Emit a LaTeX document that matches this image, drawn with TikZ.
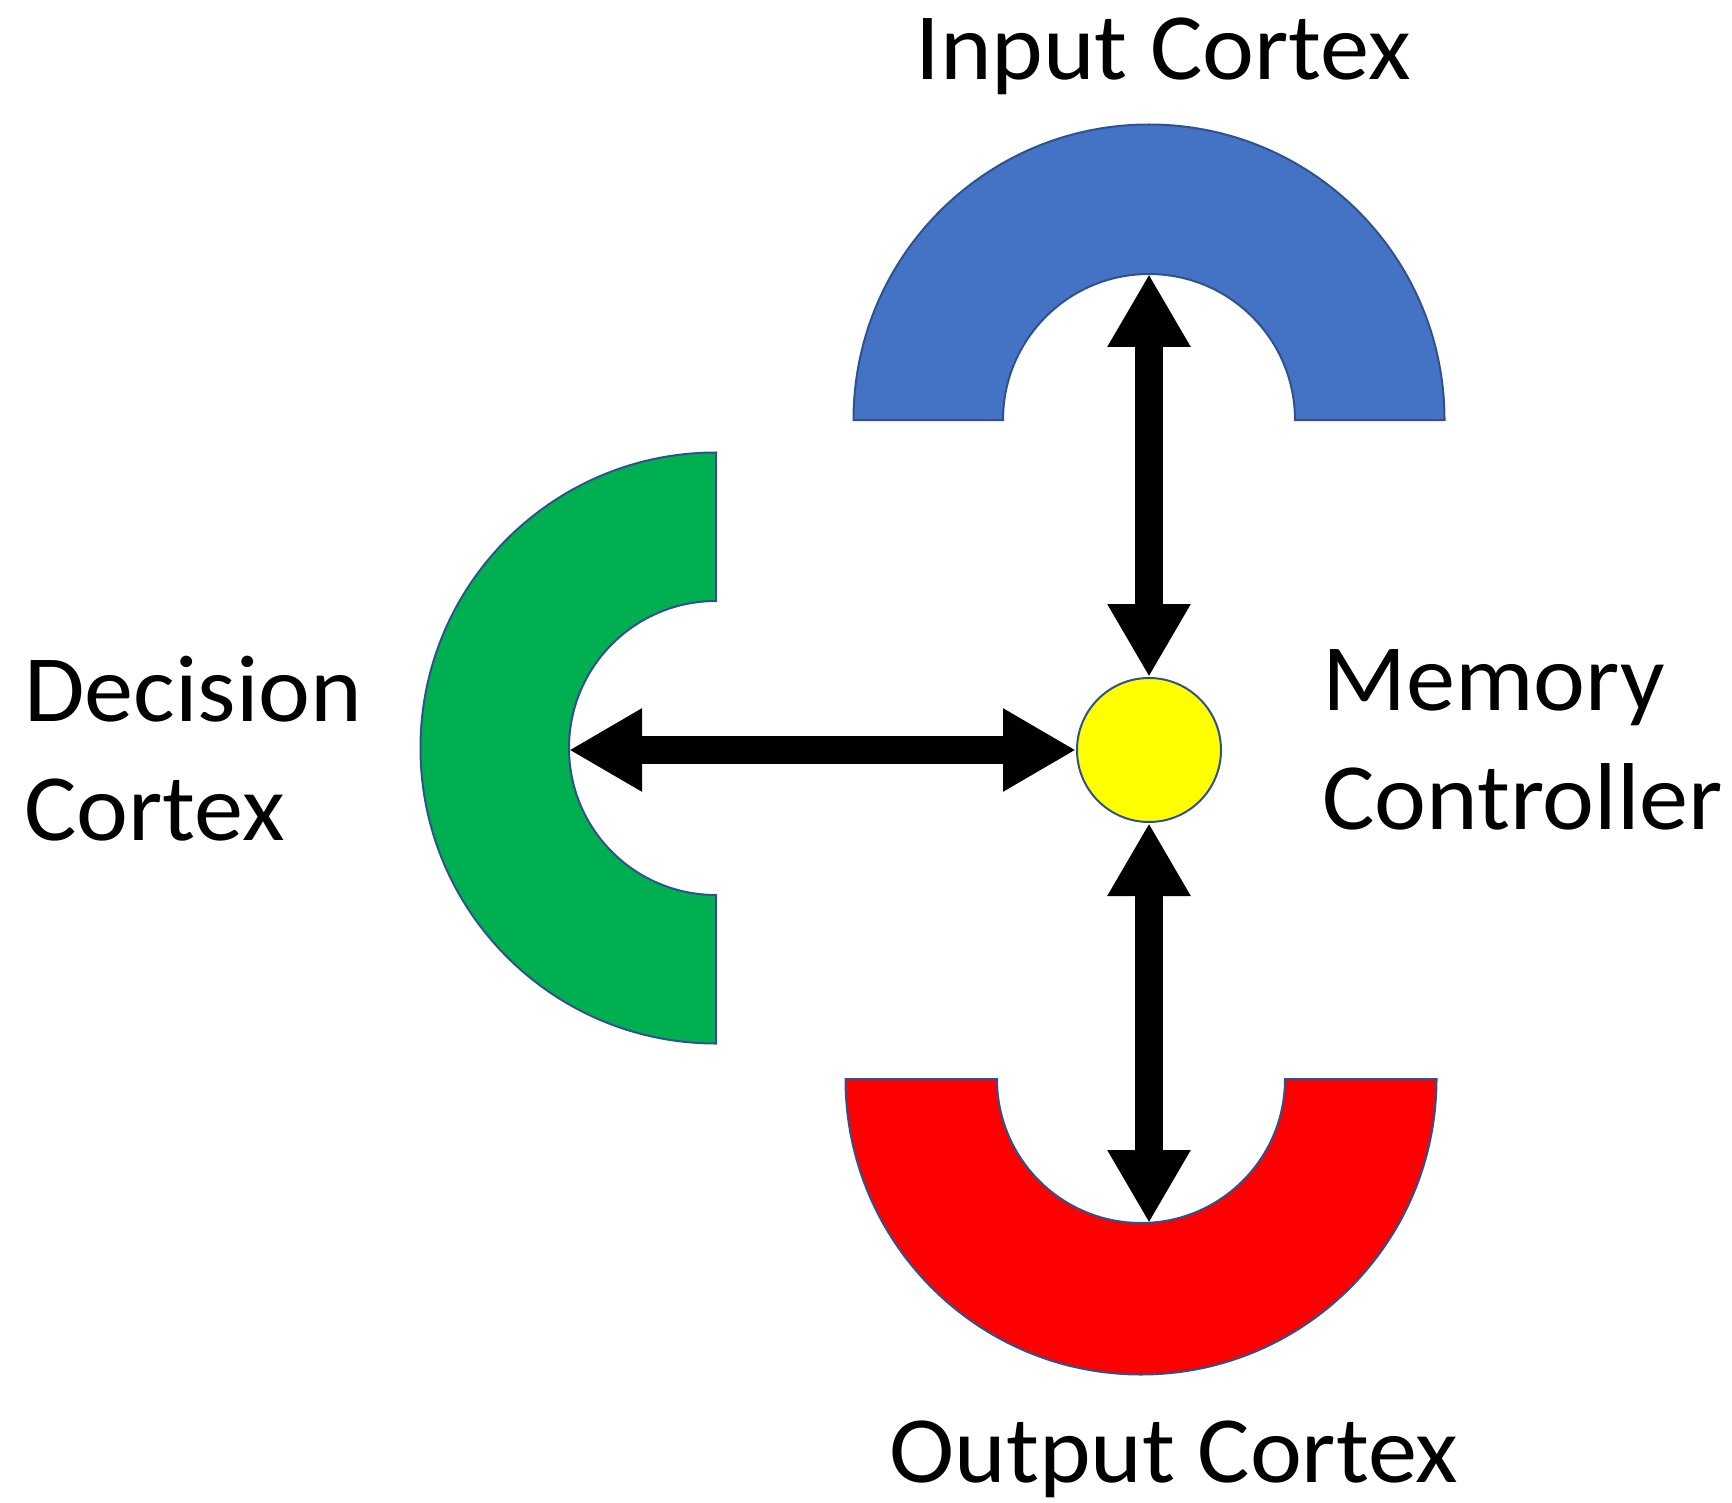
\documentclass[tikz,border=0pt]{standalone}
\usepackage{fontspec}
\setmainfont{Carlito}[FakeStretch=1.035]
\usetikzlibrary{arrows.meta}
\definecolor{inblue}{HTML}{4472C4}
\definecolor{decgreen}{HTML}{00B050}
\definecolor{outred}{HTML}{FF0000}
\definecolor{memyellow}{HTML}{FFFF00}
\definecolor{rim}{HTML}{2F528F}
\begin{document}
\begin{tikzpicture}[x=1pt,y=-1pt,
  arch/.style={draw=rim,line width=2pt},
  link/.style={line width=28pt,{Triangle[width=78pt,length=73pt]}-{Triangle[width=78pt,length=73pt]}},
  label/.style={inner sep=0pt,font=\fontsize{95}{119}\selectfont}]
\useasboundingbox (0,0) rectangle (1732,1503);
% input cortex (blue arch, opening downwards)
\draw[arch,fill=inblue] (853.5,420) arc[start angle=180,end angle=360,radius=295.5]
  -- (1295,420) arc[start angle=0,end angle=-180,radius=146] -- cycle;
% decision cortex (green arch, opening to the right)
\draw[arch,fill=decgreen] (716,452.5) arc[start angle=270,end angle=90,radius=295.5]
  -- (716,895) arc[start angle=90,end angle=270,radius=147] -- cycle;
% output cortex (red arch, opening upwards)
\draw[arch,fill=outred] (845.5,1079) arc[start angle=180,end angle=0,radius=295.5]
  -- (1285,1079) arc[start angle=0,end angle=180,radius=144] -- cycle;
% memory controller
\node[circle,draw=rim,line width=2pt,fill=memyellow,minimum size=144pt,inner sep=0pt] (mc) at (1149,750) {};
\coordinate (intop) at (1149,274);
\coordinate (outbot) at (1149,1223);
\coordinate (decin) at (569,750);
\draw[link] (intop) -- (mc.north);
\draw[link] (mc.south) -- (outbot);
\draw[link] (decin) -- (mc.west);
% labels (base anchors of two-line labels sit on the last line)
\node[label,anchor=base] (lin) at (1163,80) {Input Cortex};
\node[label,anchor=base] (lout) at (1174,1482) {Output Cortex};
\node[label,anchor=base west,align=left] (ldec) at (24,840) {Decision\\Cortex};
\node[label,anchor=base west,align=left] (lmem) at (1322,829) {Memory\\Controller};
\end{tikzpicture}
\end{document}
